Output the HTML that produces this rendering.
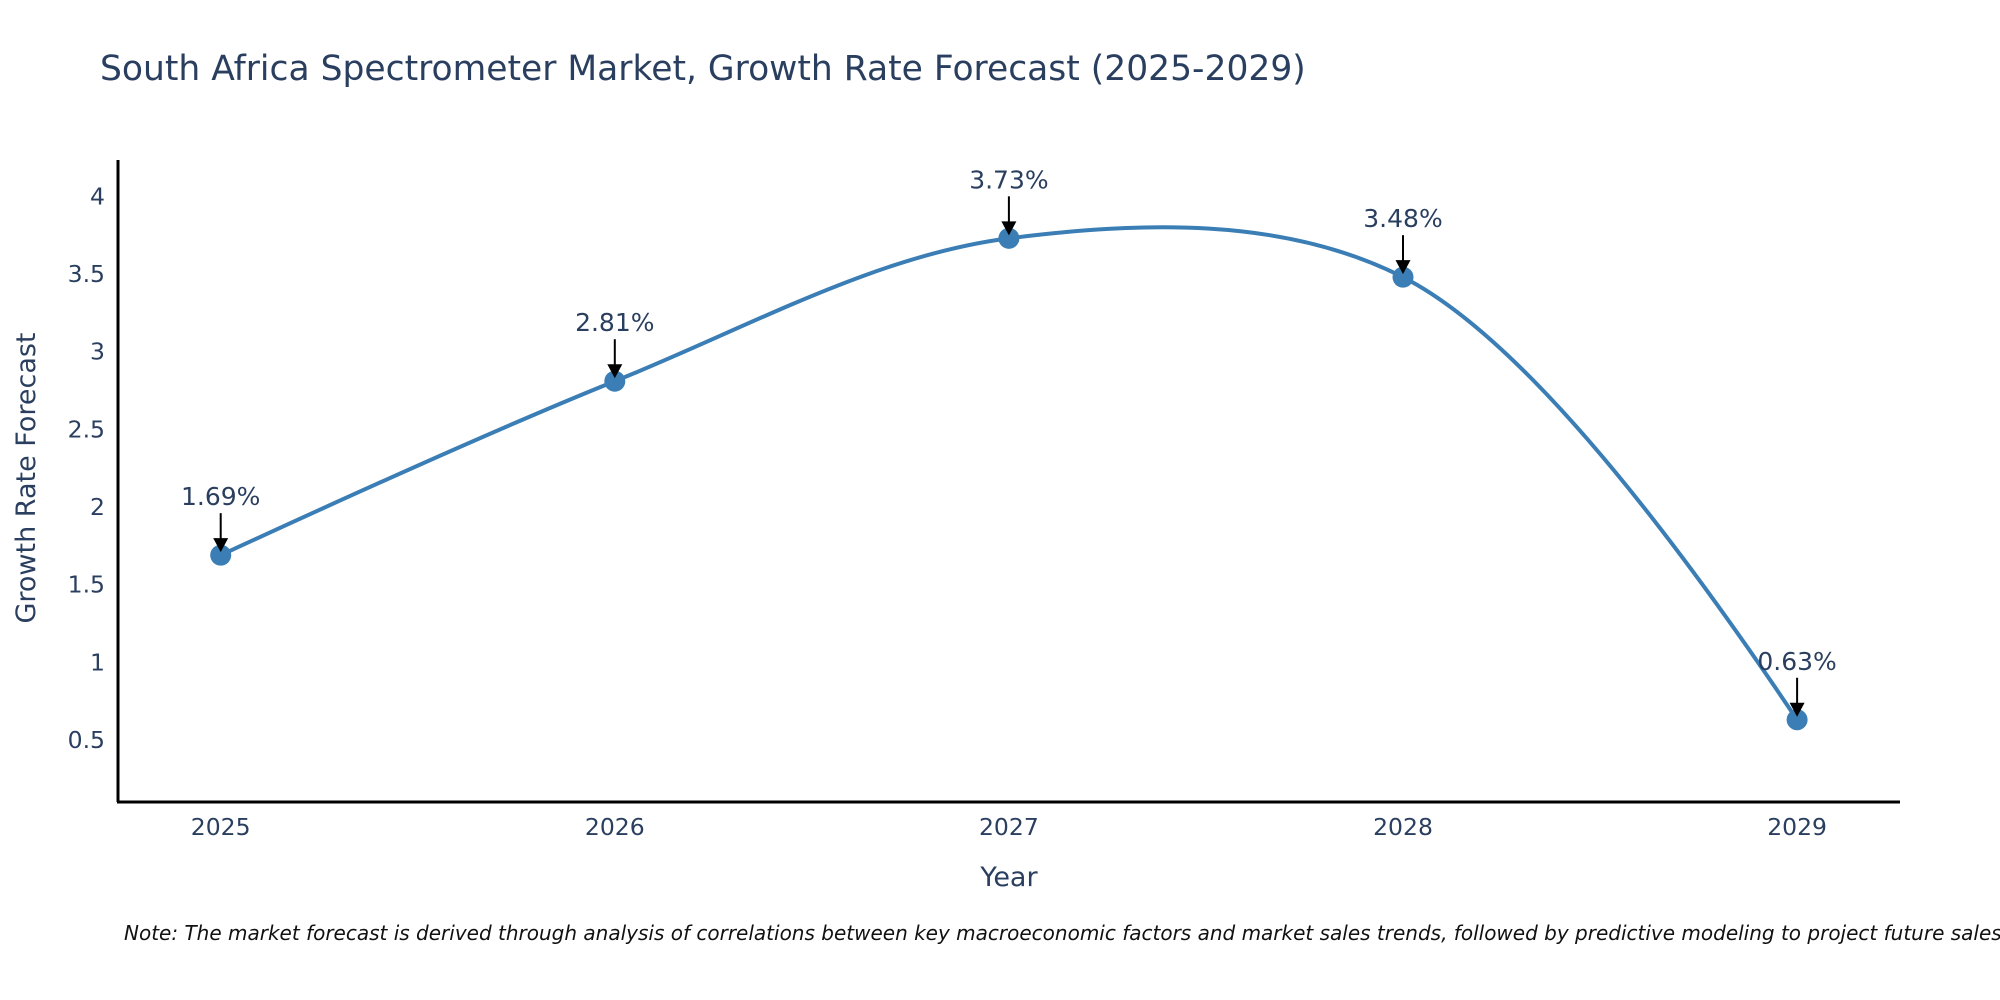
<!DOCTYPE html>
<html><head><meta charset="utf-8"><style>
html,body{margin:0;padding:0;background:#fff;}
svg{display:block;font-family:"DejaVu Sans","Liberation Sans",sans-serif;}
</style></head><body>
<svg id="chart" width="2000" height="1000" viewBox="0 0 2000 1000">
<text x="100" y="80" font-size="34.5" fill="#2a3f5f">South Africa Spectrometer Market, Growth Rate Forecast (2025-2029)</text>
<g id="yticks"></g>
<g id="xticks"></g>
<line x1="118" y1="160" x2="118" y2="802" stroke="#000" stroke-width="3"/>
<line x1="117" y1="802" x2="1900" y2="802" stroke="#000" stroke-width="3"/>
<path id="series-line" fill="none" stroke="#3a7eb5" stroke-width="4"/>
<g id="points"></g>
<g id="annots"></g>
<text x="1009" y="886" font-size="27" fill="#2a3f5f" text-anchor="middle">Year</text>
<text transform="translate(35,478) rotate(-90)" font-size="27" fill="#2a3f5f" text-anchor="middle">Growth Rate Forecast</text>
<text x="124" y="940" font-size="20" font-style="italic" fill="#111">Note: The market forecast is derived through analysis of correlations between key macroeconomic factors and market sales trends, followed by predictive modeling to project future sales.</text>
</svg>
<script>
const years = [2025, 2026, 2027, 2028, 2029];
const growth = [1.69, 2.81, 3.73, 3.48, 0.63];
const labels = ["1.69%", "2.81%", "3.73%", "3.48%", "0.63%"];
const yTicks = [0.5, 1, 1.5, 2, 2.5, 3, 3.5, 4];
const yTickLabels = ["0.5", "1", "1.5", "2", "2.5", "3", "3.5", "4"];

const NS = "http://www.w3.org/2000/svg";
function xScale(v){ return 220.7 + (v - 2025) * 394.1; }
function yScale(v){ return 507 - (v - 2) * 155.3; }
function mk(tag, attrs, parent){
  const e = document.createElementNS(NS, tag);
  for (const k in attrs) e.setAttribute(k, attrs[k]);
  parent.appendChild(e); return e;
}
const yg = document.getElementById('yticks');
yTicks.forEach((t, i) => {
  const tx = mk('text', {x: 105, y: yScale(t) + 8, 'font-size': 23.5, fill: '#2a3f5f', 'text-anchor': 'end'}, yg);
  
  
  tx.textContent = yTickLabels[i];
});
const xg = document.getElementById('xticks');
years.forEach(y => {
  const tx = mk('text', {x: xScale(y), y: 835, 'font-size': 23.5, fill: '#2a3f5f', 'text-anchor': 'middle'}, xg);
  
  
  tx.textContent = String(y);
});
const pts = years.map((y, i) => [xScale(y), yScale(growth[i])]);
function tangent(p0, p1, p2, s){
  const d1x = p0[0]-p1[0], d1y = p0[1]-p1[1], d2x = p2[0]-p1[0], d2y = p2[1]-p1[1];
  const d1a = Math.pow(d1x*d1x + d1y*d1y, 0.25), d2a = Math.pow(d2x*d2x + d2y*d2y, 0.25);
  const nx = (d2a*d2a*d1x - d1a*d1a*d2x) * s, ny = (d2a*d2a*d1y - d1a*d1a*d2y) * s;
  const den1 = 3*d2a*(d1a+d2a), den2 = 3*d1a*(d1a+d2a);
  return [[p1[0] + nx/den1, p1[1] + ny/den1], [p1[0] - nx/den2, p1[1] - ny/den2]];
}
const tg = [];
for (let i = 1; i < pts.length - 1; i++) tg.push(tangent(pts[i-1], pts[i], pts[i+1], 1));
let d = 'M' + pts[0] + 'Q' + tg[0][0] + ' ' + pts[1];
for (let i = 2; i < pts.length - 1; i++) d += 'C' + tg[i-2][1] + ' ' + tg[i-1][0] + ' ' + pts[i];
d += 'Q' + tg[tg.length-1][1] + ' ' + pts[pts.length-1];
document.getElementById('series-line').setAttribute('d', d);

const pg = document.getElementById('points');
const ag = document.getElementById('annots');
pts.forEach((p, i) => {
  const c = mk('circle', {cx: p[0], cy: p[1], r: 10.5, fill: '#3a7eb5'}, pg);
  
  
  const ln = mk('line', {x1: p[0], y1: p[1] - 42, x2: p[0], y2: p[1] - 14, stroke: '#000', 'stroke-width': 2}, ag);
  
  
  const hd = mk('polygon', {points: (p[0]-7.5) + ',' + (p[1]-17) + ' ' + (p[0]+7.5) + ',' + (p[1]-17) + ' ' + p[0] + ',' + (p[1]-3), fill: '#000'}, ag);
  
  
  const tx = mk('text', {x: p[0], y: p[1] - 50, 'font-size': 25, fill: '#2a3f5f', 'text-anchor': 'middle'}, ag);
  
  
  tx.textContent = labels[i];
});
</script>
</body></html>
